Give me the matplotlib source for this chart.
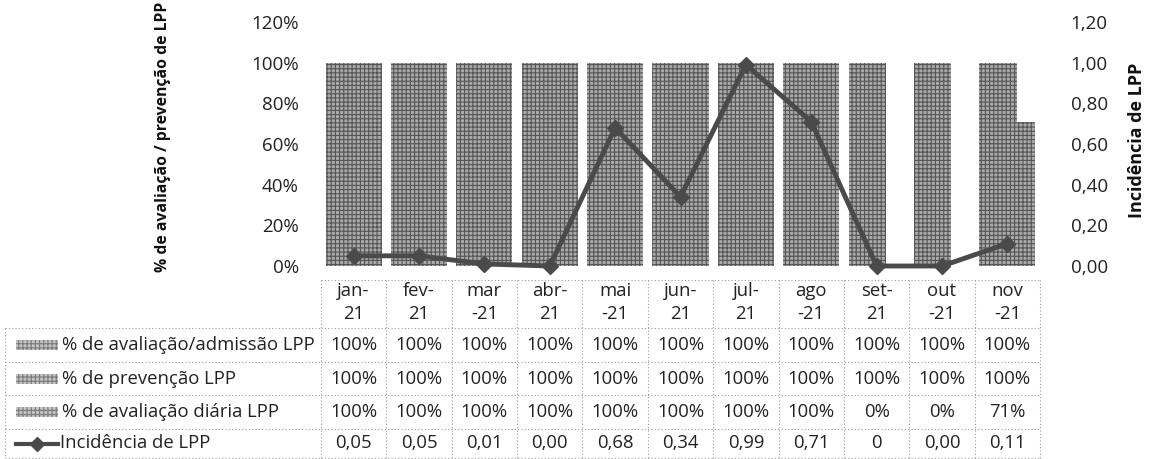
import matplotlib
matplotlib.use("Agg")
import matplotlib.pyplot as plt
from matplotlib.patches import Rectangle
from matplotlib.lines import Line2D
from matplotlib.transforms import blended_transform_factory
from matplotlib.ticker import FuncFormatter
import numpy as np

# ---------------- data ----------------
months = ["jan-\n21", "fev-\n21", "mar\n-21", "abr-\n21", "mai\n-21", "jun-\n21",
          "jul-\n21", "ago\n-21", "set-\n21", "out\n-21", "nov\n-21"]
series_names = ["% de avaliação/admissão LPP", "% de prevenção LPP",
                "% de avaliação diária LPP", "Incidência de LPP"]
avaliacao_admissao = [1.00, 1.00, 1.00, 1.00, 1.00, 1.00, 1.00, 1.00, 1.00, 1.00, 1.00]
prevencao = [1.00, 1.00, 1.00, 1.00, 1.00, 1.00, 1.00, 1.00, 1.00, 1.00, 1.00]
avaliacao_diaria = [1.00, 1.00, 1.00, 1.00, 1.00, 1.00, 1.00, 1.00, 0.00, 0.00, 0.71]
incidencia = [0.05, 0.05, 0.01, 0.00, 0.68, 0.34, 0.99, 0.71, 0.00, 0.00, 0.11]
incidencia_labels = ["0,05", "0,05", "0,01", "0,00", "0,68", "0,34", "0,99", "0,71",
                     "0", "0,00", "0,11"]
left_label = "% de avaliação / prevenção de LPP"
right_label = "Incidência de LPP"

# ---------------- style ----------------
FONT = "Open Sans"
plt.rcParams["font.family"] = [FONT, "DejaVu Sans"]
plt.rcParams["hatch.linewidth"] = 0.8
W, H = 1149, 459
fig = plt.figure(figsize=(W / 100, H / 100), dpi=100)

def fx(px):
    return px / W

def fy(py):
    return 1 - py / H

ax_left, ax_right, ax_top, ax_bot = 321, 1040, 22, 266
ax = fig.add_axes([fx(ax_left), fy(ax_bot), fx(ax_right - ax_left), (ax_bot - ax_top) / H])
ax2 = ax.twinx()

x = np.arange(len(months))
bw = 0.286
bar_face = "#a9a9a9"
bar_hatch = "#555555"
for off, vals in zip([-bw, 0, bw], [avaliacao_admissao, prevencao, avaliacao_diaria]):
    ax.bar(x + off, vals, width=bw, color=bar_face, edgecolor=bar_hatch,
           hatch="++++", linewidth=0, zorder=2)

line_color = "#4a4a4a"
ax2.plot(x, incidencia, color=line_color, lw=3.5, marker="D", ms=8,
         mec=line_color, mfc=line_color, clip_on=False, zorder=3)

ax.set_xlim(-0.5, len(months) - 0.5)
ax.set_ylim(0, 1.2)
ax2.set_ylim(0, 1.2)
ax.set_yticks(np.arange(0, 1.21, 0.2))
ax2.set_yticks(np.arange(0, 1.21, 0.2))
ax.yaxis.set_major_formatter(FuncFormatter(lambda v, p: f"{v*100:.0f}%"))
ax2.yaxis.set_major_formatter(FuncFormatter(lambda v, p: f"{v:.2f}".replace(".", ",")))
ax.set_xticks([])
for a in (ax, ax2):
    for s in a.spines.values():
        s.set_visible(False)
    a.patch.set_visible(False)
ax.tick_params(axis="y", length=0, pad=16, labelsize=13.5, labelcolor="#222222")
ax2.tick_params(axis="y", length=0, pad=22, labelsize=13.5, labelcolor="#222222")

fig.text(fx(163), fy(137), left_label, rotation=90, ha="center", va="center",
         fontsize=11.3, fontweight="bold", color="#111111")
fig.text(fx(1137), fy(140), right_label, rotation=90, ha="center", va="center",
         fontsize=13, fontweight="bold", color="#111111")

# ---------------- data table ----------------
tr = blended_transform_factory(ax.transData, fig.transFigure)
grid_kw = dict(color="#9a9a9a", lw=0.8, ls=(0, (1, 2)))
head_top, row_tops = 280, [328, 362, 395, 429]
bottom = 458
x_edges = np.arange(len(months) + 1) - 0.5
table_left = 5

# horizontal lines
fig.add_artist(Line2D([x_edges[0], x_edges[-1]], [fy(head_top)] * 2, transform=tr, **grid_kw))
for yy in row_tops + [bottom]:
    fig.add_artist(Line2D([fx(table_left), fx(ax_left)], [fy(yy)] * 2, **grid_kw))
    fig.add_artist(Line2D([x_edges[0], x_edges[-1]], [fy(yy)] * 2, transform=tr, **grid_kw))
# vertical lines
for xe in x_edges:
    fig.add_artist(Line2D([xe, xe], [fy(head_top), fy(bottom)], transform=tr, **grid_kw))
fig.add_artist(Line2D([fx(table_left)] * 2, [fy(row_tops[0]), fy(bottom)], **grid_kw))

FS = 13.3
txt_kw = dict(fontsize=FS, color="#222222", ha="center", va="center")
for i, m in enumerate(months):
    top_s, bot_s = m.split("\n")
    fig.text(x[i], fy(291), top_s, transform=tr, **txt_kw)
    fig.text(x[i], fy(314), bot_s, transform=tr, **txt_kw)

rows = [avaliacao_admissao, prevencao, avaliacao_diaria]
row_centers = [(row_tops[k] + (row_tops[k + 1] if k < 3 else bottom)) / 2 for k in range(4)]
for r, vals in enumerate(rows):
    for i, v in enumerate(vals):
        fig.text(x[i], fy(row_centers[r]), f"{v*100:.0f}%", transform=tr, **txt_kw)
for i, s in enumerate(incidencia_labels):
    fig.text(x[i], fy(row_centers[3]), s, transform=tr, **txt_kw)

# legend keys + row labels
for r in range(3):
    yc = row_centers[r]
    fig.add_artist(Rectangle((fx(16), fy(yc + 5)), fx(42), 10 / H, facecolor="#c4c4c4",
                             edgecolor="#7a7a7a", hatch="++++", linewidth=0,
                             transform=fig.transFigure))
    fig.text(fx(62), fy(yc), series_names[r], fontsize=FS, color="#222222",
             ha="left", va="center")
yc = row_centers[3]
fig.add_artist(Line2D([fx(16), fx(58)], [fy(yc)] * 2, color=line_color, lw=3))
fig.add_artist(Line2D([fx(37)], [fy(yc)], color=line_color, marker="D", ms=7, lw=0))
fig.text(fx(60), fy(yc), series_names[3], fontsize=FS, color="#222222",
         ha="left", va="center")

fig.savefig("out.png", dpi=100)
